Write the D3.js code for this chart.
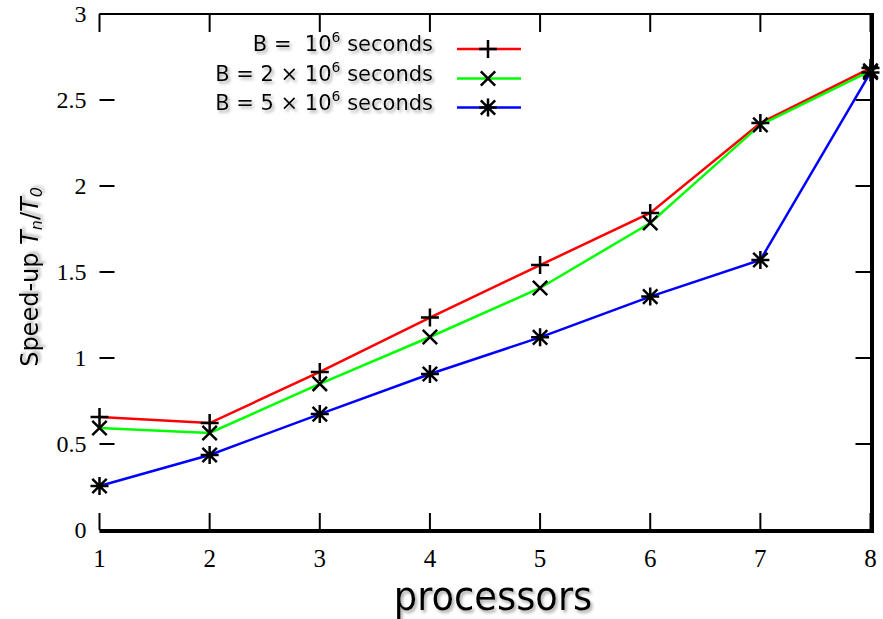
<!DOCTYPE html>
<html><head><meta charset="utf-8">
<script src="https://cdn.jsdelivr.net/npm/d3@7"></script>
<style>body{margin:0;background:#fff}</style>
</head><body>
<script>
const processors = [1,2,3,4,5,6,7,8];
const seriesNames = ["B1","B2","B5"];
const speedB1 = [0.657,0.622,0.919,1.235,1.540,1.843,2.366,2.686];
const speedB2 = [0.593,0.564,0.850,1.122,1.407,1.785,2.355,2.670];
const speedB5 = [0.256,0.436,0.674,0.907,1.120,1.357,1.570,2.660];
const yTicks = [0,0.5,1,1.5,2,2.5,3];
const yTickLabels = ["0","0.5","1","1.5","2","2.5","3"];
const xTicks = [1,2,3,4,5,6,7,8];
const colors = ["#ff0000","#00ff00","#0000ff"];
const markers = ["plus","cross","star"];

const W=883,H=619;
const svg=d3.select("body").append("svg").attr("width",W).attr("height",H);
const defs=svg.append("defs");
const f=defs.append("filter").attr("id","sh").attr("x","-10%").attr("y","-10%").attr("width","130%").attr("height","150%");
f.append("feDropShadow").attr("dx",2).attr("dy",2.5).attr("stdDeviation",1.5).attr("flood-color","#888").attr("flood-opacity",0.7);

const x=d3.scaleLinear().domain([1,8]).range([99.5,870.5]);
const y=d3.scaleLinear().domain([0,3]).range([530,14]);

const sans="'DejaVu Sans',sans-serif";
const sansC="'DejaVu Sans Condensed','DejaVu Sans',sans-serif";
const serif="'Liberation Serif','Times New Roman',serif";

// frame
const g=svg.append("g");
g.append("line").attr("x1",x(1)).attr("x2",x(8)+2).attr("y1",y(3)).attr("y2",y(3)).attr("stroke","#000").attr("stroke-width",2);
g.append("line").attr("x1",x(1)).attr("x2",x(8)+3).attr("y1",y(0)+1).attr("y2",y(0)+1).attr("stroke","#000").attr("stroke-width",4);
g.append("line").attr("x1",x(8)+1.5).attr("x2",x(8)+1.5).attr("y1",y(3)-1).attr("y2",y(0)+3).attr("stroke","#000").attr("stroke-width",4);

// y ticks (left & right, inward)
yTicks.forEach((v,i)=>{
  g.append("line").attr("x1",x(1)).attr("x2",x(1)+15).attr("y1",y(v)).attr("y2",y(v)).attr("stroke","#000").attr("stroke-width",2);
  g.append("line").attr("x1",x(8)-15).attr("x2",x(8)).attr("y1",y(v)).attr("y2",y(v)).attr("stroke","#000").attr("stroke-width",2);
  g.append("text").attr("x",x(1)-13).attr("y",y(v)+8).attr("text-anchor","end")
   .attr("font-family",serif).attr("font-size",24).text(yTickLabels[i]);
});
// x ticks (bottom & top, inward)
xTicks.forEach(v=>{
  g.append("line").attr("x1",x(v)).attr("x2",x(v)).attr("y1",y(0)).attr("y2",y(0)-17).attr("stroke","#000").attr("stroke-width",2);
  g.append("line").attr("x1",x(v)).attr("x2",x(v)).attr("y1",y(3)).attr("y2",y(3)+18).attr("stroke","#000").attr("stroke-width",2);
  g.append("text").attr("x",x(v)).attr("y",567).attr("text-anchor","middle")
   .attr("font-family",serif).attr("font-size",25).text(String(v));
});

// marker paths
function mk(type,r){
  const p=d3.path();
  if(type==="plus"||type==="star"){p.moveTo(0,-r);p.lineTo(0,r);}
  if(type==="plus"){p.moveTo(-r,0);p.lineTo(r,0);}
  if(type==="star"){p.moveTo(-r,0);p.lineTo(r,0);}
  if(type==="cross"||type==="star"){const d=r*0.8;p.moveTo(-d,-d);p.lineTo(d,d);p.moveTo(-d,d);p.lineTo(d,-d);}
  return p.toString();
}

const data=[speedB1,speedB2,speedB5];
const line=d3.line().x((d,i)=>x(processors[i])).y(d=>y(d));
data.forEach((s,k)=>{
  svg.append("path").attr("d",line(s)).attr("fill","none").attr("stroke",colors[k]).attr("stroke-width",2.5);
});
data.forEach((s,k)=>{
  svg.selectAll(null).data(s).enter().append("path")
   .attr("transform",(d,i)=>`translate(${x(processors[i])},${y(d)})`)
   .attr("d",mk(markers[k],9)).attr("fill","none").attr("stroke","#000").attr("stroke-width",2.5);
});

// legend
const legendLabels=[["B = ","10","6"," seconds"],["B = 2 × ","10","6"," seconds"],["B = 5 × ","10","6"," seconds"]];
const legY=[49,78.5,107.5];
legendLabels.forEach((lab,k)=>{
  const t=svg.append("text").attr("x",433).attr("y",legY[k]+2).attr("text-anchor","end")
   .attr("font-family",sans).attr("font-size",21).attr("filter","url(#sh)").attr("xml:space","preserve");
  t.append("tspan").text(lab[0]+(k===0?" ":""));
  t.append("tspan").text(lab[1]);
  t.append("tspan").attr("dy",-9).attr("font-size",14).text(lab[2]);
  t.append("tspan").attr("dy",9).text(lab[3]);
  svg.append("line").attr("x1",457).attr("x2",521).attr("y1",legY[k]).attr("y2",legY[k]).attr("stroke",colors[k]).attr("stroke-width",2.5);
  svg.append("path").attr("transform",`translate(488,${legY[k]})`).attr("d",mk(markers[k],9)).attr("fill","none").attr("stroke","#000").attr("stroke-width",2.5);
});

// axis titles
svg.append("text").attr("x",493).attr("y",610).attr("text-anchor","middle")
  .attr("font-family",sansC).attr("font-size",41).attr("filter","url(#sh)").text("processors");
const yt=svg.append("text").attr("transform","translate(38,277) rotate(-90)").attr("text-anchor","middle")
  .attr("font-family",sans).attr("font-size",24).attr("filter","url(#sh)");
yt.append("tspan").text("Speed-up ");
yt.append("tspan").attr("font-style","italic").text("T");
yt.append("tspan").attr("font-style","italic").attr("font-size",16).attr("dy",4).text("n");
yt.append("tspan").attr("dy",-4).text("/");
yt.append("tspan").attr("font-style","italic").text("T");
yt.append("tspan").attr("font-style","italic").attr("font-size",16).attr("dy",4).text("0");
</script>
</body></html>
